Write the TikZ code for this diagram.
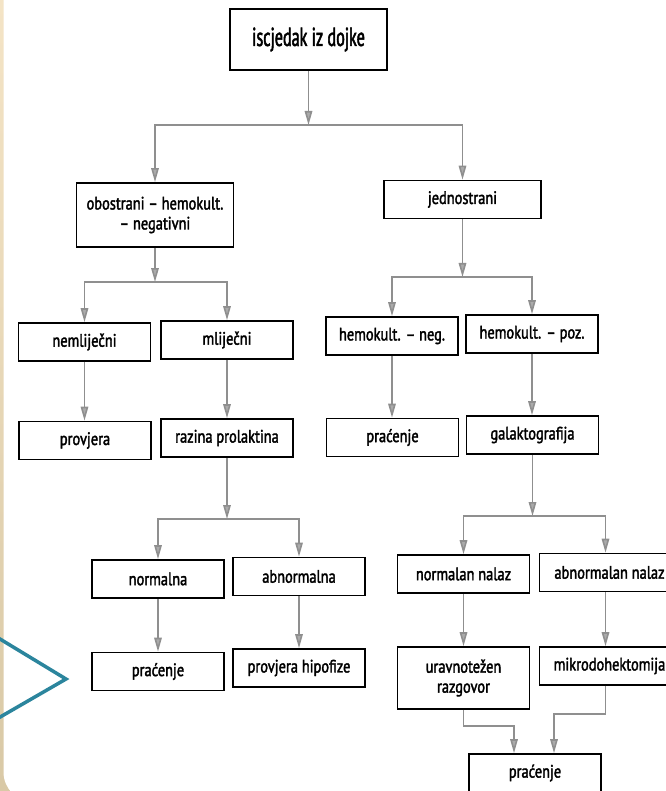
\documentclass[tikz,border=0pt]{standalone}
\usepackage{fontspec}
\setmainfont{PT Sans}[FakeStretch=0.8, FakeBold=2]
\usepackage{tikz}
\usetikzlibrary{arrows.meta}
\definecolor{frame beige}{rgb}{0.957, 0.894, 0.776}
\definecolor{frame tan}{rgb}{0.851, 0.788, 0.651}
\definecolor{chevron teal}{rgb}{0.169, 0.522, 0.616}
\definecolor{link grey}{rgb}{0.56, 0.56, 0.56}

\begin{document}
\begin{tikzpicture}[x = 1pt, y = -1pt,
		box/.style = {draw, line width = 1.7pt, minimum width = 132pt,
			minimum height = 38pt, inner sep = 1pt, align = center,
			font = \fontsize{18}{20}\selectfont},
		widebox/.style = {box, minimum width = 157pt},
		cutbox/.style = {box, minimum width = 140pt},
		link/.style = {draw = link grey, line width = 1.6pt,
			-{Triangle[length = 14pt, width = 7.5pt, fill = link grey!75]}}]
		\useasboundingbox (0, 0) rectangle (665, 791);
		% page and frame
		\fill[top color = frame beige, bottom color = frame tan]
			(0, 0) rectangle (665, 791);
		\fill[white, rounded corners = 30pt] (3.5, -30) rectangle (700, 802);
		\draw[chevron teal, line width = 3.5pt]
			(-4, 636.6) -- (66, 679) -- (-4, 719.4);
		% boxes
		\node[widebox, minimum height = 61pt,
				font = \addfontfeature{FakeStretch=0.62}\fontsize{26}{28}\selectfont]
			(top) at (308.5, 39.5) {iscjedak iz dojke};
		\node[widebox, minimum height = 64pt] (obo) at (155, 215)
			{obostrani – hemokult.\\– negativni};
		\node[widebox] (jed) at (462.5, 199.5) {jednostrani};
		\node[box] (neml) at (84.5, 342) {nemliječni};
		\node[box] (mlij) at (227, 340) {mliječni};
		\node[box] (hneg) at (392, 336) {hemokult. – neg.};
		\node[box] (hpoz) at (532, 334) {hemokult. – poz.};
		\node[box] (prov) at (85, 440.5) {provjera};
		\node[box] (razina) at (227, 438) {razina prolaktina};
		\node[box] (prac1) at (392.5, 437.5) {praćenje};
		\node[box] (galak) at (532.5, 435) {galaktografija};
		\node[box] (norm) at (158, 579) {normalna};
		\node[box] (abn) at (299, 576.5) {abnormalna};
		\node[box] (prac2) at (158, 671.5) {praćenje};
		\node[box] (hipof) at (299, 668) {provjera hipofize};
		\node[box] (normn) at (463.5, 574) {normalan nalaz};
		\node[cutbox] (abnn) at (609.5, 572.5) {abnormalan nalaz};
		\node[box, minimum height = 62pt] (urav) at (463.5, 678)
			{uravnotežen\\razgovor};
		\node[cutbox] (mikro) at (609.5, 666) {mikrodohektomija};
		\node[box] (prac3) at (535, 773) {praćenje};
		% splits
		\foreach \p/\y/\l/\r in {top/125/obo/jed, obo/282/neml/mlij,
				jed/277/hneg/hpoz, razina/519/norm/abn} {
			\coordinate (split) at (\p.south |- 0, \y);
			\draw[link] (\p) -- (split);
			\draw[link] (split) -| (\l.north);
			\draw[link] (split) -| (\r.north);
		}
		% galaktografija split, right arm not on the box centre
		\coordinate (split) at (galak.south |- 0, 516);
		\draw[link] (galak) -- (split);
		\draw[link] (split) -| (normn.north);
		\draw[link] (split) -| ([xshift = -4pt]abnn.north);
		% straight links
		\foreach \a/\b in {neml/prov, mlij/razina, hneg/prac1, hpoz/galak,
				norm/prac2, abn/hipof, normn/urav}
			\draw[link] (\a.south) -- (\a.south |- \b.north);
		\draw[link] ([xshift = -4pt]abnn.south) -- ([xshift = -4pt]mikro.north);
		% merge
		\draw[link] (urav.south) -- ++(0, 16) -| ([xshift = -21pt]prac3.north);
		\draw[link] ([xshift = -4pt]mikro.south) -- ++(0, 28)
			-| ([xshift = 19pt]prac3.north);
	\end{tikzpicture}
\end{document}
